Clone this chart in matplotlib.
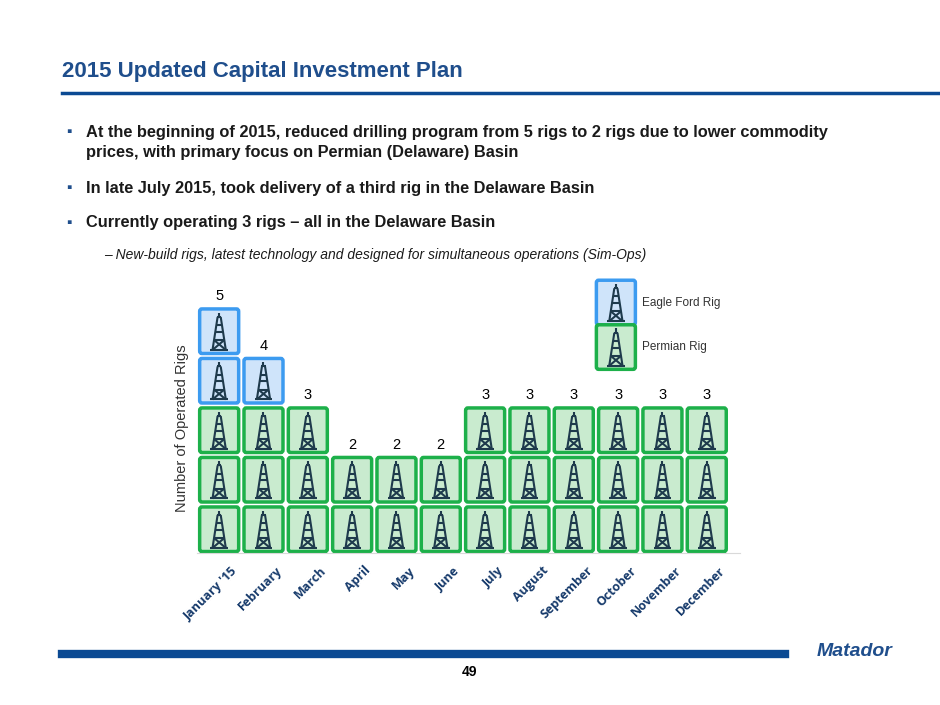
"""Slide figure: operated rig count by month in 2015 (matplotlib, rig-icon boxes)."""

import matplotlib.pyplot as plt
import matplotlib.transforms as mtransforms
from matplotlib.patches import FancyBboxPatch

plt.rcParams.update(
    {
        "font.family": ["Liberation Sans", "DejaVu Sans"],
    }
)

NAVY = "#1F4E8C"
BAR_BLUE = "#0B4A93"
EF_EDGE = "#3C9BF0"
EF_FILL = "#CFE4FA"
PERM_EDGE = "#1DB04A"
PERM_FILL = "#C9EBCF"
RIG_COLOR = "#1E3A4C"

MONTHS = ["January '15", "February", "March", "April", "May", "June", "July",
          "August", "September", "October", "November", "December"]
PERMIAN = [3, 3, 3, 2, 2, 2, 3, 3, 3, 3, 3, 3]
EAGLE_FORD = [2, 1, 0, 0, 0, 0, 0, 0, 0, 0, 0, 0]


def draw_rig(ax, cx, y0, h=0.8):
    """Draw a small derrick glyph centred on cx inside a box starting at y0."""
    b = y0 + 0.08 * h
    t = y0 + 0.82 * h
    kw = dict(color=RIG_COLOR, lw=1.5, solid_capstyle="butt", clip_on=False)
    ax.plot([cx - 0.15, cx - 0.035], [b, t], **kw)
    ax.plot([cx + 0.15, cx + 0.035], [b, t], **kw)
    ax.plot([cx, cx], [t, t + 0.1 * h], **kw)
    ax.plot([cx - 0.05, cx + 0.05], [t, t], **kw)
    for f in (0.3, 0.55, 0.75):
        yy = b + f * (t - b)
        w = 0.15 - f * 0.115
        ax.plot([cx - w, cx + w], [yy, yy], **kw)
    ax.plot([cx - 0.15, cx + 0.115], [b, b + 0.3 * (t - b)], **kw)
    ax.plot([cx + 0.15, cx - 0.115], [b, b + 0.3 * (t - b)], **kw)
    ax.plot([cx - 0.2, cx + 0.2], [b, b], **kw)


def draw_box(ax, cx, y0, edge, fill, w=0.88, h=0.96):
    """A rounded square with a rig glyph inside."""
    box = FancyBboxPatch((cx - w / 2, y0 + 0.03), w, h - 0.06,
                         boxstyle="round,pad=0,rounding_size=0.05",
                         fc=fill, ec=edge, lw=2.5, clip_on=False)
    ax.add_patch(box)
    draw_rig(ax, cx, y0 + 0.03, h - 0.06)


def plot_rigs(fig):
    """Stacked rig boxes per month: Permian on the bottom, Eagle Ford on top."""
    ax = fig.add_axes([197 / 940, (705 - 553) / 705, 543 / 940, 250 / 705])
    for i, (perm, ef) in enumerate(zip(PERMIAN, EAGLE_FORD)):
        for k in range(perm):
            draw_box(ax, i, k * 1.0, PERM_EDGE, PERM_FILL)
        for k in range(ef):
            draw_box(ax, i, (perm + k) * 1.0, EF_EDGE, EF_FILL)
        ax.text(i, perm + ef + 0.05, str(perm + ef), ha="center", va="bottom",
                fontsize=10.5)
    ax.set_xlim(-0.5, 11.75)
    ax.set_ylim(0, 5.05)
    ax.set_xticks(range(len(MONTHS)))
    ax.set_xticklabels(MONTHS, rotation=45, ha="right", rotation_mode="anchor",
                       fontsize=9, fontweight="bold", color="#163A6B",
                       family=["Open Sans", "DejaVu Sans"])
    ax.tick_params(length=0, pad=8)
    shift = mtransforms.ScaledTranslation(12 / 100, 0, fig.dpi_scale_trans)
    for lbl in ax.get_xticklabels():
        lbl.set_transform(lbl.get_transform() + shift)
    ax.set_yticks([])
    for side in ("top", "right", "left"):
        ax.spines[side].set_visible(False)
    ax.spines["bottom"].set_color("#D9D9D9")
    ax.set_ylabel("Number of Operated Rigs", fontsize=10.5, color="#333333",
                  labelpad=6)

    # legend glyphs
    draw_box(ax, 8.95, 4.58, EF_EDGE, EF_FILL)
    draw_box(ax, 8.95, 3.68, PERM_EDGE, PERM_FILL)
    ax.text(9.55, 5.06, "Eagle Ford Rig", va="center", fontsize=8.5, color="#333333")
    ax.text(9.55, 4.16, "Permian Rig", va="center", fontsize=8.5, color="#333333")
    return ax


def decorate(fig):
    """Slide title, bullets and footer."""
    fig.text(62 / 940, 1 - 72 / 705, "2015 Updated Capital Investment Plan",
             fontsize=16, fontweight="bold", color=NAVY, va="center")
    fig.add_artist(plt.Line2D([62 / 940, 1.0], [1 - 93 / 705] * 2,
                              color=BAR_BLUE, lw=2.5))
    bullets = [
        (132, "At the beginning of 2015, reduced drilling program from 5 rigs to 2 rigs due to lower commodity"),
        (152, "prices, with primary focus on Permian (Delaware) Basin"),
        (188, "In late July 2015, took delivery of a third rig in the Delaware Basin"),
        (223, "Currently operating 3 rigs \u2013 all in the Delaware Basin"),
    ]
    for i, (y, line) in enumerate(bullets):
        fig.text(86 / 940, 1 - y / 705, line, fontsize=11.8, fontweight="bold",
                 color="#1A1A1A", va="center")
        if i != 1:
            fig.text(66 / 940, 1 - y / 705, "\u25aa", fontsize=11, color=NAVY,
                     va="center")
    fig.text(104 / 940, 1 - 255 / 705,
             "\u2013 New-build rigs, latest technology and designed for simultaneous operations (Sim-Ops)",
             fontsize=10, style="italic", color="#1A1A1A", va="center")
    fig.add_artist(plt.Line2D([62 / 940, 785 / 940], [1 - 654 / 705] * 2,
                              color=BAR_BLUE, lw=6))
    fig.text(470 / 940, 1 - 672 / 705, "49", fontsize=10, fontweight="bold",
             ha="center", va="center")
    fig.text(855 / 940, 1 - 652 / 705, "Matador", fontsize=14, fontweight="bold",
             style="italic", color=NAVY, ha="center", va="center")


fig = plt.figure(figsize=(9.4, 7.05), dpi=100)
decorate(fig)
plot_rigs(fig)
fig.savefig("out.png", dpi=100)
plt.close(fig)
